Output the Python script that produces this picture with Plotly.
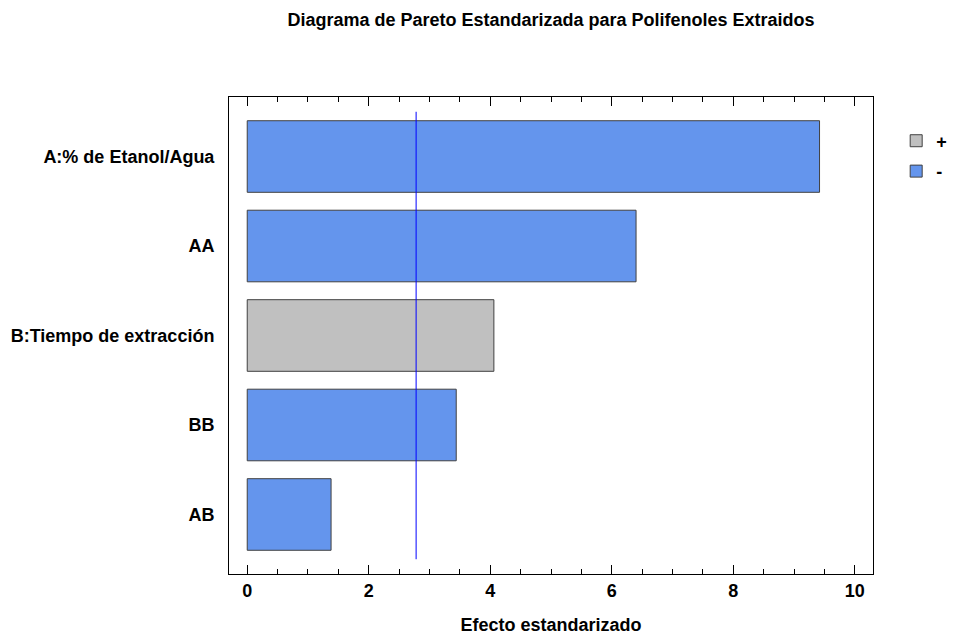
import plotly.graph_objects as go

# Data
factors = ["A:% de Etanol/Agua", "AA", "B:Tiempo de extracción", "BB", "AB"]
effects = [9.42, 6.40, 4.06, 3.44, 1.38]
signs = ["-", "-", "+", "-", "-"]
t_crit = 2.78
x_ticks = [0, 2, 4, 6, 8, 10]

title_text = "Diagrama de Pareto Estandarizada para Polifenoles Extraidos"
x_title = "Efecto estandarizado"

colors = {"+": "#C0C0C0", "-": "#6495ED"}
font_family = "Liberation Sans, Arial, sans-serif"
FS = 18

fig = go.Figure()
for s in ["+", "-"]:
    ys = [f for f, sg in zip(factors, signs) if sg == s]
    xs = [e for e, sg in zip(effects, signs) if sg == s]
    fig.add_trace(go.Bar(
        x=xs, y=ys, orientation="h", name="<b>" + s + "</b>",
        legendgroup=s,
        marker=dict(color=colors[s], line=dict(color="#404040", width=1)),
        width=0.8,
    ))

fig.add_shape(type="line", xref="x", yref="y",
              x0=t_crit, x1=t_crit, y0=-0.5, y1=len(factors) - 0.5,
              line=dict(color="#0000FF", width=1))

# page body has an 8px margin, so the figure is 8px smaller and offset
fig.update_layout(
    width=950, height=627,
    paper_bgcolor="white", plot_bgcolor="white",
    margin=dict(l=221, r=85, t=89, b=61, autoexpand=False),
    barmode="overlay",
    title=dict(text="<b>" + title_text + "</b>", x=0.5, xref="paper",
               y=0.981, yref="container", xanchor="center", yanchor="middle",
               font=dict(family=font_family, size=FS, color="black")),
    font=dict(family=font_family, color="black"),
    legend=dict(x=1.036, y=0.9465, xanchor="left", yanchor="top",
                font=dict(family=font_family, size=FS, color="black"),
                traceorder="grouped", tracegroupgap=4, itemwidth=30,
                bgcolor="rgba(0,0,0,0)"),
    showlegend=True,
)

fig.update_xaxes(
    range=[-0.3, 10.3], automargin=False,
    tickmode="array", tickvals=x_ticks,
    ticktext=["<b>%d</b>" % v for v in x_ticks],
    ticks="inside", ticklen=9, tickcolor="black", tickwidth=1,
    minor=dict(dtick=0.5, ticks="inside", ticklen=5, tickcolor="black"),
    showline=True, linecolor="black", linewidth=1, mirror="ticks",
    showgrid=False, zeroline=False,
    tickfont=dict(family=font_family, size=FS, color="black"),
    title=dict(text="<b>" + x_title + "</b>", standoff=24,
               font=dict(family=font_family, size=FS, color="black")),
)

fig.update_yaxes(
    categoryorder="array", categoryarray=factors[::-1], automargin=False,
    range=[-0.665, len(factors) - 1 + 0.665],
    ticks="", showline=True, linecolor="black", linewidth=1, mirror=True,
    showgrid=False, zeroline=False,
    tickvals=factors, ticktext=["<b>" + f + "</b>" for f in factors],
    ticklabelstandoff=10,
    tickfont=dict(family=font_family, size=FS, color="black"),
)

fig.write_html("out.html")
